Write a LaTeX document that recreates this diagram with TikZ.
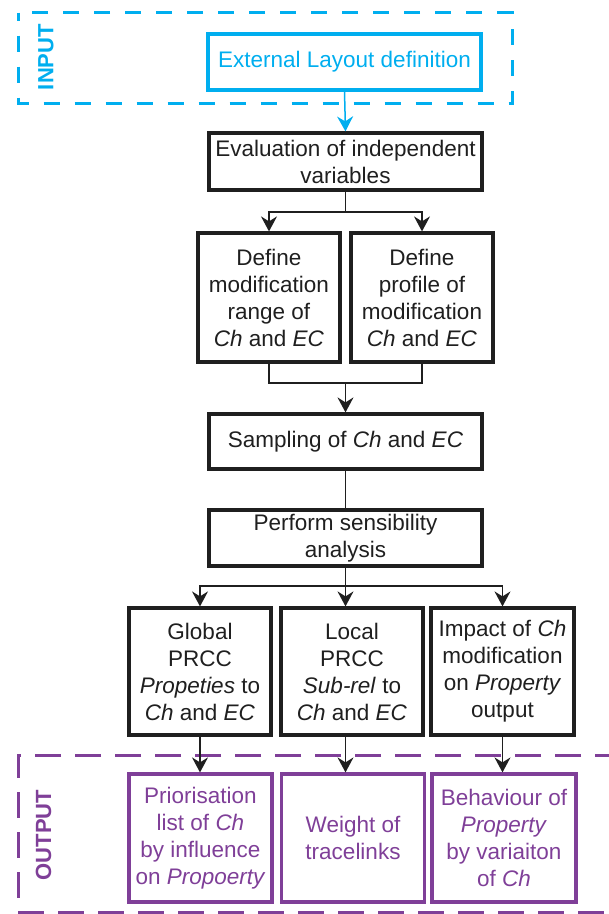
\documentclass[tikz,border=0pt]{standalone}
\usepackage{fontspec}
\setmainfont{Liberation Sans}
\usetikzlibrary{arrows.meta}
\definecolor{incyan}{HTML}{00AEEF}
\definecolor{outpurple}{HTML}{7F3F98}
\begin{document}
\begin{tikzpicture}[x=1pt,y=-1pt,
  box/.style={draw, line width=3.2pt, align=center, inner sep=0pt,
    font=\fontsize{22.5}{27}\selectfont},
  blackbox/.style={box, draw=black!88, text=black!88},
  inbox/.style={box, draw=incyan, text=incyan},
  outbox/.style={box, draw=outpurple, text=outpurple},
  conn/.style={line width=1.5pt, draw=black!88},
  arr/.style={conn, -{Stealth[length=15pt,width=16pt,inset=5pt]}},
  inarr/.style={line width=1.5pt, draw=incyan, -{Stealth[length=15pt,width=16pt,inset=5pt]}},
  frame/.style={line width=3pt},
  label/.style={font=\fontsize{22}{26}\selectfont\bfseries, rotate=90}]
\useasboundingbox (0,0) rectangle (609,914);

% INPUT frame
\draw[frame, incyan, dash pattern=on 16pt off 15pt, dash phase=8pt]
  (18,12.5) rectangle (512,103);
\node[label, text=incyan] (inlbl) at (46,57) {INPUT};

% OUTPUT frame
\draw[frame, outpurple, dash pattern=on 26pt off 14pt, dash phase=12pt]
  (609,755) -- (18,755) -- (18,912) -- (609,912);
\node[label, text=outpurple] (outlbl) at (43.5,835) {OUTPUT};

% nodes
\node[inbox, minimum width=273pt, minimum height=56pt] (ext) at (344.5,62) {External Layout definition};
\node[blackbox, minimum width=273pt, minimum height=57pt] (eval) at (345.5,161.5) {Evaluation of independent\\variables};
\node[blackbox, minimum width=142pt, minimum height=129pt] (defmod) at (269,297.5) {Define\\modification\\range of\\\textit{Ch} and \textit{EC}};
\node[blackbox, minimum width=142pt, minimum height=129pt] (defprof) at (422,297.5) {Define\\profile of\\modification\\\textit{Ch} and \textit{EC}};
\node[blackbox, minimum width=273pt, minimum height=55pt] (samp) at (345.5,441.5) {Sampling of \textit{Ch} and \textit{EC}};
\node[blackbox, minimum width=273pt, minimum height=56pt] (perf) at (345.5,538) {Perform sensibility\\analysis};

\node[blackbox, minimum width=142pt, minimum height=127pt] (glob) at (200,671.5) {Global\\PRCC\\\textit{Propeties} to\\\textit{Ch} and \textit{EC}};
\node[blackbox, minimum width=142pt, minimum height=127pt] (loc) at (352,671.5) {Local\\PRCC\\\textit{Sub-rel} to\\\textit{Ch} and \textit{EC}};
\node[blackbox, minimum width=143pt, minimum height=127pt] (imp) at (502.5,671.5) {Impact of \textit{Ch}\\modification\\on \textit{Property}\\output};

\node[outbox, minimum width=143pt, minimum height=128pt] (prio) at (200.5,838) {Priorisation\\list of \textit{Ch}\\by influence\\on \textit{Propoerty}};
\node[outbox, minimum width=143pt, minimum height=128pt] (weight) at (353,838) {Weight of\\tracelinks};
\node[outbox, minimum width=144pt, minimum height=128pt] (behav) at (504,838) {Behaviour of\\\textit{Property}\\by variaiton\\of \textit{Ch}};

% connectors
\draw[inarr] (ext.south) -- (eval.north);

\coordinate (s1) at (345.5,212);
\draw[conn] (eval.south) -- (s1);
\draw[arr] (s1) -| (defmod.north);
\draw[arr] (s1) -| (defprof.north);

\coordinate (m1) at (345.5,383);
\draw[conn] (defmod.south) |- (m1);
\draw[conn] (defprof.south) |- (m1);
\draw[arr] (m1) -- (samp.north);

\draw[conn] (samp.south) -- (perf.north);

\coordinate (s2) at (345.5,586);
\draw[conn] (perf.south) -- (s2);
\draw[arr] (s2) -| (glob.north);
\draw[arr] (s2) -- (s2 |- loc.north);
\draw[arr] (s2) -| (imp.north);

\draw[arr] (glob.south) -- (glob.south |- prio.north);
\draw[arr] (s2 |- loc.south) -- (s2 |- weight.north);
\draw[arr] (imp.south) -- (imp.south |- behav.north);
\end{tikzpicture}
\end{document}
